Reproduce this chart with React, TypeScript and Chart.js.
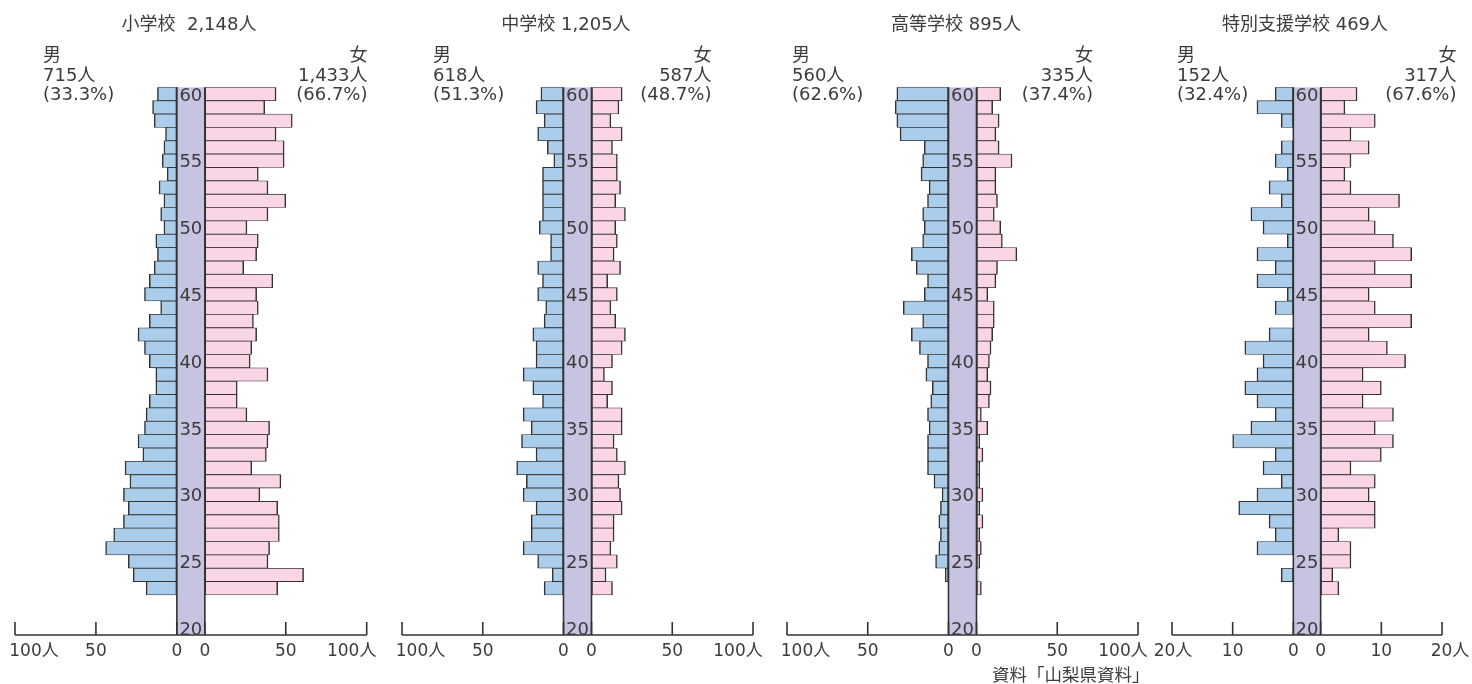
import { useEffect, useRef } from 'react';
import { Chart, registerables } from 'chart.js';

Chart.register(...registerables);

// ---------- data ----------
const AGE_LABELS = ['60','59','58','57','56','55','54','53','52','51','50','49','48','47','46','45','44','43','42','41','40','39','38','37','36','35','34','33','32','31','30','29','28','27','26','25','24','23','22','21','20'];
const AGE_TICKS = ['60','55','50','45','40','35','30','25','20'];

const TICKS_100 = [100, 50, 0];
const TICK_LABELS_100 = ['100人', '50', '0'];
const TICKS_20 = [20, 10, 0];
const TICK_LABELS_20 = ['20人', '10', '0'];

const TITLES = ['小学校  2,148人', '中学校 1,205人', '高等学校 895人', '特別支援学校 469人'];
const MALE_TEXT = [['男', '715人', '(33.3%)'], ['男', '618人', '(51.3%)'], ['男', '560人', '(62.6%)'], ['男', '152人', '(32.4%)']];
const FEMALE_TEXT = [['女', '1,433人', '(66.7%)'], ['女', '587人', '(48.7%)'], ['女', '335人', '(37.4%)'], ['女', '317人', '(67.6%)']];
const SOURCE = '資料「山梨県資料」';

// values by age, from 60 down to 23
const ELEM_MALE = [12,15,14,7,8,9,6,11,8,10,8,13,12,14,17,20,10,17,24,20,17,13,13,17,19,20,24,21,32,29,33,30,33,39,44,30,27,19];
const ELEM_FEMALE = [44,37,54,44,49,49,33,39,50,39,26,33,32,24,42,32,33,30,32,29,28,39,20,20,26,40,39,38,29,47,34,45,46,46,40,39,61,45];
const JUNIOR_MALE = [14,17,12,16,10,6,13,13,13,13,15,8,8,16,13,16,11,12,19,17,17,25,19,13,25,20,26,17,29,23,25,17,20,20,25,16,7,12];
const JUNIOR_FEMALE = [19,17,12,19,13,16,16,18,15,21,15,16,14,18,10,16,12,15,21,19,13,8,13,10,19,19,14,16,21,17,18,19,14,14,12,16,9,13];
const HIGH_MALE = [32,33,32,30,15,16,17,12,13,16,15,16,23,20,13,15,28,16,23,18,13,14,10,11,13,12,13,13,13,9,4,5,6,5,6,8,2,0];
const HIGH_FEMALE = [15,10,14,12,14,22,12,12,13,11,15,16,25,13,12,7,11,11,10,9,8,7,9,8,3,7,2,4,2,2,4,2,4,2,3,2,1,3];
const SPECIAL_MALE = [3,6,2,0,2,3,1,4,2,7,5,1,6,3,6,1,3,0,4,8,5,6,8,6,3,7,10,3,5,2,6,9,4,3,6,0,2,0];
const SPECIAL_FEMALE = [6,4,9,5,8,5,4,5,13,8,9,12,15,9,15,8,9,15,8,11,14,7,10,7,12,9,12,10,5,9,8,9,9,3,5,5,2,3];

// ---------- style / layout ----------
const BLUE = '#aacdeb';
const PINK = '#f9d5e5';
const BAND = '#c7c4e1';
const LINE = '#333333';
const TEXT = '#3c3c3c';
const FONT = '"DejaVu Sans", "Noto Sans CJK JP", sans-serif';
const CANVAS_H = 684;
const AREA_TOP = 87.3;
const AREA_BOTTOM = 635;
const PAD_L = 25;
const PAD_R = 32;

type Panel = {
  idx: number;
  male: number[];
  female: number[];
  ticks: number[];
  tickLabels: string[];
  xMax: number;
  areaLeft: number;
  areaRight: number;
  band: number;
  titleCenter: number;
  leftTextX: number;
  rightTextX: number;
  outerDx: [number, number];
};

const PANELS: Panel[] = [
  { idx: 0, male: ELEM_MALE, female: ELEM_FEMALE, ticks: TICKS_100, tickLabels: TICK_LABELS_100, xMax: 100, areaLeft: 15, areaRight: 366.7, band: 28, titleCenter: 189, leftTextX: 43, rightTextX: 367.5, outerDx: [19, -15] },
  { idx: 1, male: JUNIOR_MALE, female: JUNIOR_FEMALE, ticks: TICKS_100, tickLabels: TICK_LABELS_100, xMax: 100, areaLeft: 401.7, areaRight: 752.7, band: 28, titleCenter: 566, leftTextX: 433, rightTextX: 711.5, outerDx: [18.5, -15] },
  { idx: 2, male: HIGH_MALE, female: HIGH_FEMALE, ticks: TICKS_100, tickLabels: TICK_LABELS_100, xMax: 100, areaLeft: 787.3, areaRight: 1138.3, band: 28, titleCenter: 956, leftTextX: 792, rightTextX: 1093, outerDx: [18.5, -15] },
  { idx: 3, male: SPECIAL_MALE, female: SPECIAL_FEMALE, ticks: TICKS_20, tickLabels: TICK_LABELS_20, xMax: 20, areaLeft: 1171.7, areaRight: 1441.7, band: 27.3, titleCenter: 1305, leftTextX: 1177, rightTextX: 1456.5, outerDx: [1, 8] },
];

const pyramidPlugin = {
  id: 'pyramid',
  beforeDatasetsDraw(chart: any, _args: any, opts: any) {
    const { ctx, chartArea, scales } = chart;
    const x = scales.x;
    const l = x.getPixelForValue(-opts.gap);
    const r = x.getPixelForValue(opts.gap);
    ctx.save();
    ctx.fillStyle = BAND;
    ctx.fillRect(l, chartArea.top, r - l, chartArea.bottom - chartArea.top);
    ctx.restore();
  },
  afterDatasetsDraw(chart: any, _args: any, opts: any) {
    const { ctx, chartArea, scales } = chart;
    const x = scales.x;
    const y = scales.y;
    const g = opts.gap;
    const l = x.getPixelForValue(-g);
    const r = x.getPixelForValue(g);
    const bottom = chartArea.bottom;
    ctx.save();
    ctx.strokeStyle = LINE;
    ctx.lineWidth = 1.6;
    // band edges
    ctx.beginPath();
    ctx.moveTo(l, chartArea.top);
    ctx.lineTo(l, bottom);
    ctx.moveTo(r, chartArea.top);
    ctx.lineTo(r, bottom);
    ctx.stroke();
    // bottom axis line
    ctx.beginPath();
    ctx.moveTo(chartArea.left, bottom);
    ctx.lineTo(chartArea.right, bottom);
    ctx.stroke();
    // tick marks pointing up
    ctx.beginPath();
    (opts.ticks as number[]).forEach((t) => {
      const xl = x.getPixelForValue(-g - t);
      const xr = x.getPixelForValue(g + t);
      ctx.moveTo(xl, bottom);
      ctx.lineTo(xl, bottom - 13);
      ctx.moveTo(xr, bottom);
      ctx.lineTo(xr, bottom - 13);
    });
    ctx.stroke();
    // tick labels
    ctx.fillStyle = TEXT;
    ctx.font = `17px ${FONT}`;
    ctx.textAlign = 'center';
    ctx.textBaseline = 'middle';
    (opts.ticks as number[]).forEach((t, i) => {
      const lab = opts.tickLabels[i];
      const dl = i === 0 ? opts.outerDx[0] : 0;
      const dr = i === 0 ? opts.outerDx[1] : 0;
      ctx.fillText(lab, x.getPixelForValue(-g - t) + dl, bottom + 16.5);
      ctx.fillText(lab, x.getPixelForValue(g + t) + dr, bottom + 16.5);
    });
    // age labels in band
    ctx.font = `18px ${FONT}`;
    AGE_TICKS.forEach((a) => {
      const yy = y.getPixelForValue(AGE_LABELS.indexOf(a));
      ctx.fillText(a, (l + r) / 2, yy + 2);
    });
    ctx.restore();
  },
};

function Pyramid({ p }: { p: Panel }) {
  const ref = useRef<HTMLCanvasElement>(null);
  const areaW = p.areaRight - p.areaLeft;
  const canvasW = Math.ceil(areaW + PAD_L + PAD_R);
  const padR = canvasW - PAD_L - areaW;

  useEffect(() => {
    if (!ref.current) return;
    const pxPerUnit = (areaW - p.band) / (2 * p.xMax);
    const g = p.band / 2 / pxPerUnit;
    const maleData = AGE_LABELS.map((_, i) => {
      const v = p.male[i];
      return v ? [-g - v, -g] : null;
    });
    const femaleData = AGE_LABELS.map((_, i) => {
      const v = p.female[i];
      return v ? [g, g + v] : null;
    });
    const chart = new Chart(ref.current, {
      type: 'bar',
      data: {
        labels: AGE_LABELS,
        datasets: [
          { label: '男', data: maleData as any, backgroundColor: BLUE },
          { label: '女', data: femaleData as any, backgroundColor: PINK },
        ],
      },
      options: {
        indexAxis: 'y',
        responsive: false,
        animation: false,
        devicePixelRatio: window.devicePixelRatio || 1,
        layout: { padding: { left: PAD_L, right: padR, top: AREA_TOP, bottom: CANVAS_H - AREA_BOTTOM } },
        datasets: {
          bar: {
            grouped: false,
            barPercentage: 1,
            categoryPercentage: 1,
            borderColor: LINE,
            borderWidth: { top: 0.8, bottom: 0.8, left: 1.5, right: 1.5 },
            borderSkipped: false,
          } as any,
        },
        scales: {
          x: { type: 'linear', min: -(p.xMax + g), max: p.xMax + g, display: false },
          y: { type: 'category', display: false, offset: true },
        },
        plugins: {
          legend: { display: false },
          tooltip: { enabled: false },
          pyramid: { gap: g, ticks: p.ticks, tickLabels: p.tickLabels, outerDx: p.outerDx },
        } as any,
      },
      plugins: [pyramidPlugin],
    });
    return () => chart.destroy();
  }, []);

  return (
    <canvas
      ref={ref}
      width={canvasW}
      height={CANVAS_H}
      style={{ position: 'absolute', left: p.areaLeft - PAD_L, top: 0 }}
    />
  );
}

const textBase: any = {
  position: 'absolute',
  fontFamily: FONT,
  fontSize: '18px',
  color: TEXT,
  whiteSpace: 'pre',
};

export default function App() {
  return (
    <div style={{ position: 'fixed', left: 0, top: 0, width: 1472, height: 684, background: '#fff', overflow: 'hidden' }}>
      {PANELS.map((p) => (
        <Pyramid key={p.idx} p={p} />
      ))}
      {PANELS.map((p) => (
        <div key={'t' + p.idx} style={{ ...textBase, left: p.titleCenter - 150, width: 300, top: 14, lineHeight: '20px', textAlign: 'center' }}>
          {TITLES[p.idx]}
        </div>
      ))}
      {PANELS.map((p) => (
        <div key={'m' + p.idx} style={{ ...textBase, left: p.leftTextX, top: 45.25, lineHeight: '19.5px', textAlign: 'left' }}>
          {MALE_TEXT[p.idx].join('\n')}
        </div>
      ))}
      {PANELS.map((p) => (
        <div key={'f' + p.idx} style={{ ...textBase, left: p.rightTextX - 200, width: 200, top: 45.25, lineHeight: '19.5px', textAlign: 'right' }}>
          {FEMALE_TEXT[p.idx].join('\n')}
        </div>
      ))}
      <div style={{ ...textBase, left: 992, top: 666, fontSize: '17.5px', lineHeight: '18px' }}>{SOURCE}</div>
    </div>
  );
}
